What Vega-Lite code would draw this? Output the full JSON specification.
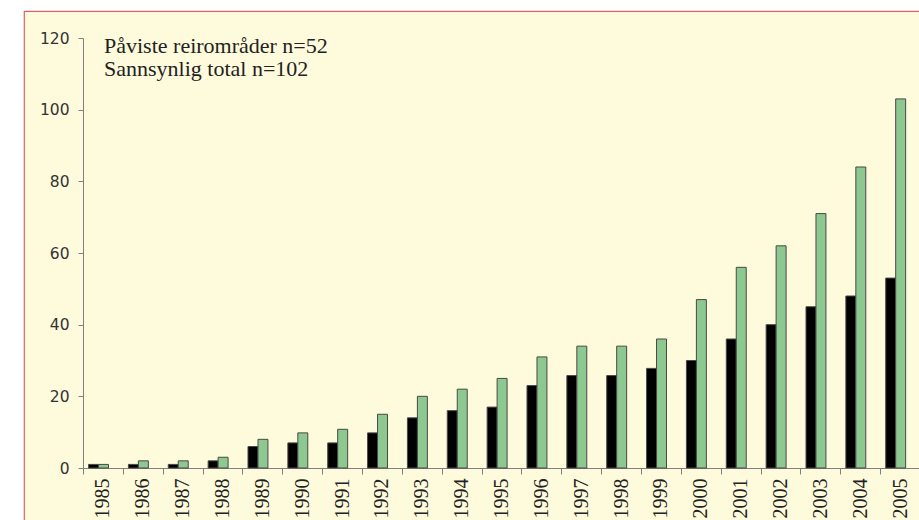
{
  "$schema": "https://vega.github.io/schema/vega-lite/v6.json",
  "width": 900,
  "height": 515,
  "autosize": {"type": "none"},
  "padding": {"left": 24, "top": 11, "right": 0, "bottom": 0},
  "background": "#ffffff",
  "config": {
    "view": {"fill": "#FEFADC", "stroke": "#E0606A", "strokeWidth": 1.2}
  },
  "title": {
    "text": ["Påviste reirområder n=52", "Sannsynlig total n=102"],
    "anchor": "start",
    "frame": "group",
    "orient": "top",
    "baseline": "top",
    "offset": 0,
    "dx": 80,
    "dy": 70,
    "font": "Liberation Serif",
    "fontSize": 22,
    "fontWeight": "normal",
    "color": "#222222",
    "lineHeight": 23
  },
  "data": {
    "values": [
      {"year": "1985", "series": "Påviste", "value": 1},
      {"year": "1985", "series": "Sannsynlig", "value": 1},
      {"year": "1986", "series": "Påviste", "value": 1},
      {"year": "1986", "series": "Sannsynlig", "value": 2},
      {"year": "1987", "series": "Påviste", "value": 1},
      {"year": "1987", "series": "Sannsynlig", "value": 2},
      {"year": "1988", "series": "Påviste", "value": 2},
      {"year": "1988", "series": "Sannsynlig", "value": 3},
      {"year": "1989", "series": "Påviste", "value": 6},
      {"year": "1989", "series": "Sannsynlig", "value": 8},
      {"year": "1990", "series": "Påviste", "value": 7},
      {"year": "1990", "series": "Sannsynlig", "value": 9.8},
      {"year": "1991", "series": "Påviste", "value": 7},
      {"year": "1991", "series": "Sannsynlig", "value": 10.8},
      {"year": "1992", "series": "Påviste", "value": 9.8},
      {"year": "1992", "series": "Sannsynlig", "value": 15},
      {"year": "1993", "series": "Påviste", "value": 14},
      {"year": "1993", "series": "Sannsynlig", "value": 20},
      {"year": "1994", "series": "Påviste", "value": 16},
      {"year": "1994", "series": "Sannsynlig", "value": 22},
      {"year": "1995", "series": "Påviste", "value": 17},
      {"year": "1995", "series": "Sannsynlig", "value": 25},
      {"year": "1996", "series": "Påviste", "value": 23},
      {"year": "1996", "series": "Sannsynlig", "value": 31},
      {"year": "1997", "series": "Påviste", "value": 25.8},
      {"year": "1997", "series": "Sannsynlig", "value": 34},
      {"year": "1998", "series": "Påviste", "value": 25.8},
      {"year": "1998", "series": "Sannsynlig", "value": 34},
      {"year": "1999", "series": "Påviste", "value": 27.8},
      {"year": "1999", "series": "Sannsynlig", "value": 36},
      {"year": "2000", "series": "Påviste", "value": 30},
      {"year": "2000", "series": "Sannsynlig", "value": 47},
      {"year": "2001", "series": "Påviste", "value": 36},
      {"year": "2001", "series": "Sannsynlig", "value": 56},
      {"year": "2002", "series": "Påviste", "value": 40},
      {"year": "2002", "series": "Sannsynlig", "value": 62},
      {"year": "2003", "series": "Påviste", "value": 45},
      {"year": "2003", "series": "Sannsynlig", "value": 71},
      {"year": "2004", "series": "Påviste", "value": 48},
      {"year": "2004", "series": "Sannsynlig", "value": 84},
      {"year": "2005", "series": "Påviste", "value": 53},
      {"year": "2005", "series": "Sannsynlig", "value": 103}
    ]
  },
  "mark": {"type": "bar", "stroke": "#484848", "strokeWidth": 1},
  "encoding": {
    "x": {
      "field": "year",
      "type": "nominal",
      "sort": null,
      "scale": {"range": [59, 896], "paddingInner": 0, "paddingOuter": 0},
      "axis": {
        "title": null,
        "offset": -58,
        "labelAngle": -90,
        "labelFont": "Liberation Serif",
        "labelFontSize": 20,
        "labelColor": "#222222",
        "labelPadding": 4,
        "tickBand": "extent",
        "tickSize": 6,
        "tickColor": "#808080",
        "domainColor": "#808080",
        "grid": false
      }
    },
    "xOffset": {
      "field": "series",
      "type": "nominal",
      "sort": ["Påviste", "Sannsynlig"],
      "scale": {"paddingInner": 0, "paddingOuter": 1.21, "align": 0.28}
    },
    "y": {
      "field": "value",
      "type": "quantitative",
      "scale": {"domain": [0, 120], "range": [457, 27], "nice": false, "zero": true},
      "axis": {
        "title": null,
        "offset": -59,
        "values": [0, 20, 40, 60, 80, 100, 120],
        "grid": false,
        "labelFont": "DejaVu Sans",
        "labelFontSize": 15.5,
        "labelColor": "#333333",
        "labelPadding": 9,
        "tickSize": 5,
        "tickColor": "#808080",
        "domainColor": "#808080"
      }
    },
    "fill": {
      "field": "series",
      "type": "nominal",
      "scale": {"domain": ["Påviste", "Sannsynlig"], "range": ["#000000", "#8DC891"]},
      "legend": null
    }
  }
}
